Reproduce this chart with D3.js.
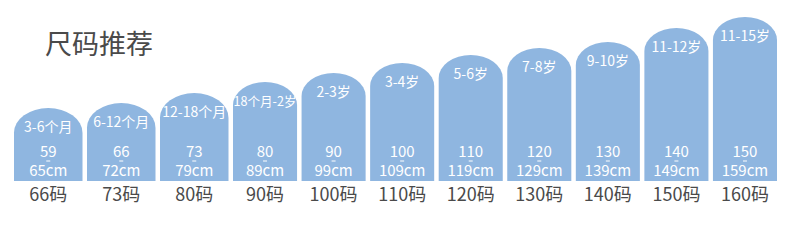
<!DOCTYPE html>
<html>
<head>
<meta charset="utf-8">
<script src="https://cdn.jsdelivr.net/npm/d3@7"></script>
<style>
  body { margin: 0; background: #fff; }
  svg { display: block; font-family: "Noto Sans CJK SC", "Noto Sans", sans-serif; }
</style>
</head>
<body>
<svg width="790" height="252"></svg>
<script>
const sizes = ["66码", "73码", "80码", "90码", "100码", "110码", "120码", "130码", "140码", "150码", "160码"];
const ages = ["3-6个月", "6-12个月", "12-18个月", "18个月-2岁", "2-3岁", "3-4岁", "5-6岁", "7-8岁", "9-10岁", "11-12岁", "11-15岁"];
const heightMin = [59, 66, 73, 80, 90, 100, 110, 120, 130, 140, 150];
const heightMax = [65, 72, 79, 89, 99, 109, 119, 129, 139, 149, 159];
const barValues = [73, 78, 88, 99, 108, 118, 126, 133, 139, 153, 164];

const data = sizes.map((s, i) => ({
  size: s,
  age: ages[i],
  min: heightMin[i],
  max: heightMax[i],
  value: barValues[i],
  i: i
}));

const svg = d3.select("svg");
const barColor = "#8fb6e0";
const gap = 4.5;
const bottom = 181;

// first three bars are a bit wider than the rest
const x = d3.scaleLinear().domain([0, 3, 11]).range([14, 233, 781.5]);
const y = d3.scaleLinear().domain([0, 170]).range([bottom, 11]);

svg.append("text")
  .attr("x", 45)
  .attr("y", 53.5)
  .attr("fill", "#4a4a4a")
  .attr("font-size", 27)
  .text("尺码推荐");

function archPath(d) {
  const x0 = x(d.i), x1 = x(d.i + 1) - gap;
  const rx = (x1 - x0) / 2, ry = rx * 0.72;
  const top = y(d.value);
  return `M${x0},${bottom} V${top + ry} A${rx},${ry} 0 0 1 ${x1},${top + ry} V${bottom} Z`;
}
const cx = d => (x(d.i) + x(d.i + 1) - gap) / 2;
const bw = d => x(d.i + 1) - gap - x(d.i);

const g = svg.selectAll(".bar")
  .data(data)
  .enter().append("g")
  .attr("class", "bar");

g.append("path")
  .attr("d", archPath)
  .attr("fill", barColor);

g.append("text")
  .attr("x", cx)
  .attr("y", d => y(d.value) + 24)
  .attr("text-anchor", "middle")
  .attr("fill", "#fff")
  .attr("font-size", 14)
  .text(d => d.age)
  .each(function(d) {
    const w = this.getComputedTextLength();
    if (w > bw(d) - 1) {
      d3.select(this).attr("font-size", 14 * (bw(d) - 1) / w);
    }
  });

// height range: two lines in one text
const range = g.append("text")
  .attr("text-anchor", "middle")
  .attr("fill", "#fff")
  .attr("font-size", 15);

range.append("tspan")
  .attr("x", cx)
  .attr("y", 157)
  .text(d => d.min);

range.append("tspan")
  .attr("x", cx)
  .attr("y", 175.5)
  .text(d => d.max + "cm");

g.append("line")
  .attr("x1", d => cx(d) - 2)
  .attr("x2", d => cx(d) + 2)
  .attr("y1", 161)
  .attr("y2", 161)
  .attr("stroke", "#fff")
  .attr("stroke-width", 1);

g.append("text")
  .attr("x", cx)
  .attr("y", 201)
  .attr("text-anchor", "middle")
  .attr("fill", "#4a4a4a")
  .attr("font-size", 18)
  .text(d => d.size);
</script>
</body>
</html>
